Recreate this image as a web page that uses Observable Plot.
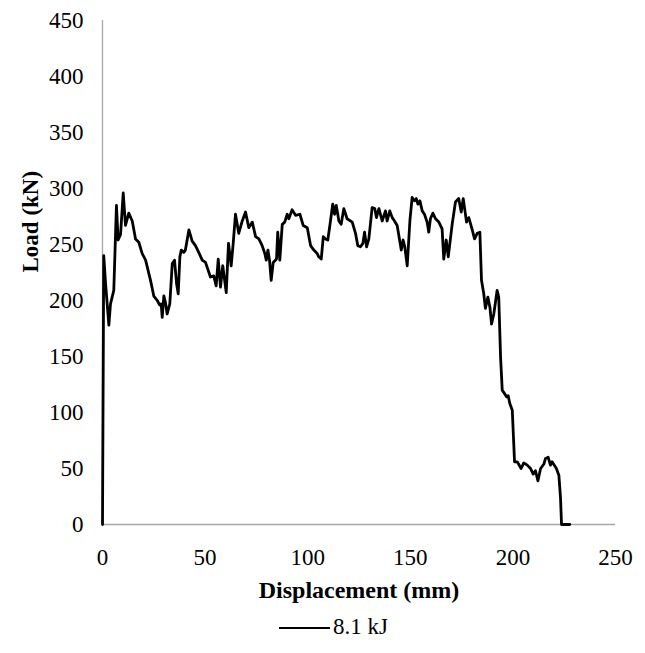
<!DOCTYPE html>
<html>
<head>
<meta charset="utf-8">
<script src="https://cdn.jsdelivr.net/npm/d3@7"></script>
<script src="https://cdn.jsdelivr.net/npm/@observablehq/plot@0.6"></script>
<style>
  body { margin: 0; background: #fff; font-family: "Liberation Serif", "Times New Roman", serif; }
  #legend { position: relative; height: 48px; width: 645px; }
  #legend .sw { position: absolute; left: 279px; top: 22px; width: 51px; height: 0; border-top: 2.8px solid #000; }
  #legend .lb { position: absolute; left: 333px; top: 9px; font-size: 23px; line-height: 26px; color: #000; }
</style>
</head>
<body>
<div id="chart"></div>
<div id="legend"><span class="sw"></span><span class="lb">8.1 kJ</span></div>
<script>
const seriesName = "8.1 kJ";
const displacement = [0,0.6,1.5,3.1,3.9,5.5,6.8,7.6,8.8,10.1,11.2,12.8,14.5,16.1,17.7,19.3,21,22.6,23.4,25,26.7,27.8,28.6,29.1,29.9,30.7,31.5,32.8,34,35.1,36.1,36.9,37.7,38.4,39.6,40.4,42.1,43.7,45.3,46.9,48.6,50.2,52.6,54.2,55.4,56.4,57.5,58.6,60.3,61.4,62.7,63.7,64.8,66.4,68.1,69.7,71.3,73,74.6,76.2,77.8,79.1,79.8,80.6,81.4,82.2,83.2,84.8,85.4,86.4,87.6,88.8,90,90.8,92.4,94.1,96.2,97.8,99.8,101.4,103,104.6,105.4,106.6,107.6,108.7,109.8,111.1,112.2,113.1,113.9,115.2,116.3,117.6,119.2,121.7,123.3,124.4,125.7,126.9,127.7,128.7,129.8,131.4,132.7,133.5,134.7,136.3,137.9,138.7,140,141.2,142.3,143.6,144.7,145.6,146.5,147.3,148.5,149.8,150.9,152,152.9,153.7,154.7,155.8,156.9,158.2,159,159.8,161,162.3,163.9,165.5,166.3,167.5,168.5,170.4,172,173.6,174.8,175.8,177.4,178.5,180.2,181.3,182.6,183.9,184.7,185.8,186.6,187.8,188.8,189.6,190.7,192.3,193.1,194,194.8,195.9,196.9,197.7,198.5,199.7,200.8,202.1,204,205.3,207,208.6,209.9,211,212.2,213.5,215.1,215.9,217.2,218.3,219.1,221.2,222.4,223.2,223.7,227.7];
const load = [0,240,215,178,197,209,285,254,259,296,267,278,271,255,252,242,236,224,218,204,200,196,197,185,204,198,188,197,233,236,215,206,239,245,243,245,263,253,249,243,236,234,221,222,213,237,212,231,207,251,231,251,277,260,271,279,265,270,257,255,249,242,236,245,236,218,234,237,261,236,268,270,277,273,281,276,277,267,265,249,245,242,239,237,257,255,254,271,286,277,285,271,268,282,273,270,260,249,248,251,261,248,255,283,282,274,282,271,280,271,280,274,271,267,255,245,254,248,231,271,292,289,291,286,289,280,277,270,261,273,278,273,270,264,237,254,239,268,288,291,279,291,270,274,263,255,260,261,218,206,193,203,194,179,188,209,203,149,120,117,114,115,108,102,56,56,50,55,53,50,45,48,39,50,54,59,60,53,56,50,44,24,0,0];
const xTicks = [0,50,100,150,200,250];
const yTicks = [0,50,100,150,200,250,300,350,400,450];
const xLabel = "Displacement (mm)";
const yLabel = "Load (kN)";

const data = displacement.map((d, i) => ({x: d, y: load[i], s: seriesName}));

const chart = Plot.plot({
  width: 645,
  height: 605,
  marginLeft: 102,
  marginRight: 30,
  marginTop: 20,
  marginBottom: 81,
  style: {fontFamily: "'Liberation Serif', 'Times New Roman', serif", fontSize: "23px", color: "#000", background: "#fff", overflow: "visible"},
  x: {domain: [0, 250]},
  y: {domain: [0, 450]},
  marks: [
    Plot.ruleY([0], {stroke: "#a6a6a6", strokeWidth: 1.3}),
    Plot.ruleX([0], {stroke: "#a6a6a6", strokeWidth: 1.3}),
    Plot.axisX(xTicks, {tickSize: 0, tickPadding: 24, label: null, fontSize: 23}),
    Plot.axisY(yTicks, {tickSize: 0, tickPadding: 19, label: null, fontSize: 23}),
    Plot.line(data, {x: "x", y: "y", stroke: "#000", strokeWidth: 2.8, strokeLinejoin: "round"}),
    Plot.text([xLabel], {frameAnchor: "bottom", dy: 73, text: d => d, fontWeight: "bold", fontSize: 24}),
    Plot.text([yLabel], {frameAnchor: "left", dx: -72, rotate: -90, text: d => d, fontWeight: "bold", fontSize: 23})
  ]
});
document.getElementById("chart").appendChild(chart);
</script>
</body>
</html>
